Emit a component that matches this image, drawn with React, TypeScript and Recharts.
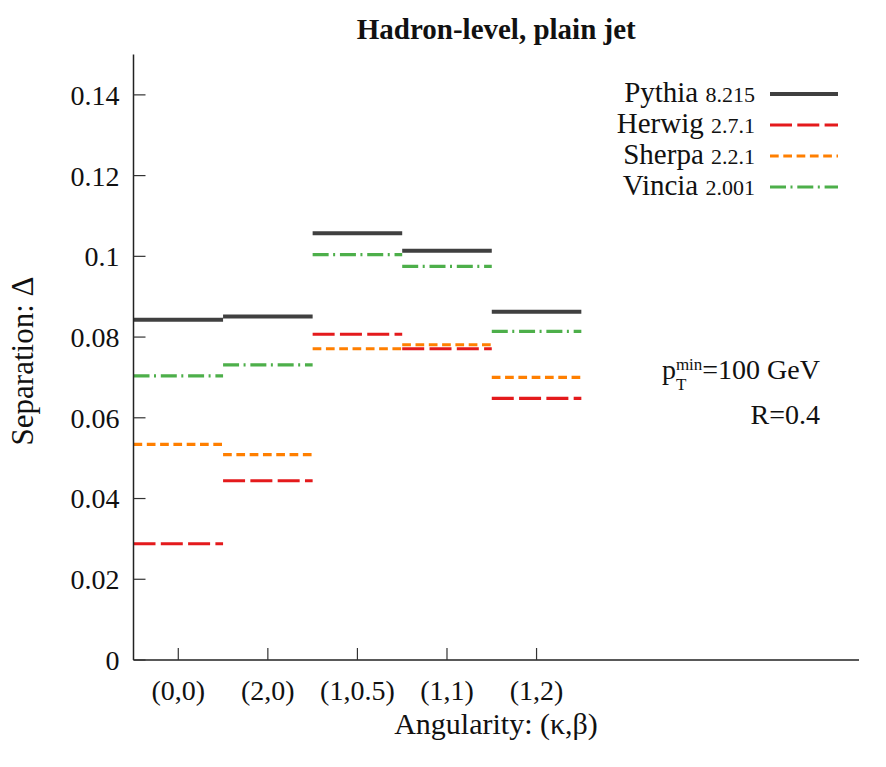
import React from 'react';
import { ComposedChart, Line, XAxis, YAxis } from 'recharts';

const categories = ['(0,0)', '(2,0)', '(1,0.5)', '(1,1)', '(1,2)'];
const pythia = [0.0843, 0.0851, 0.1057, 0.1014, 0.0863];
const herwig = [0.0288, 0.0444, 0.0807, 0.0771, 0.0648];
const sherpa = [0.0534, 0.0509, 0.0771, 0.0781, 0.07];
const vincia = [0.0704, 0.0731, 0.1004, 0.0975, 0.0814];
const yTicks = [0, 0.02, 0.04, 0.06, 0.08, 0.1, 0.12, 0.14];
const xTicks = [1, 2, 3, 4, 5];

const FONT = "'Liberation Serif', 'DejaVu Serif', serif";

// each value becomes a flat step across its bin, with a gap before the next bin
const toSteps = (values: number[]) =>
  values.flatMap((v, i) => [
    { x: i + 0.5, y: v },
    { x: i + 1.5, y: v },
    { x: i + 1.5, y: null },
  ]);

const series = [
  { name: 'Pythia', version: '8.215', values: pythia, color: '#404040', width: 4, dash: undefined },
  { name: 'Herwig', version: '2.7.1', values: herwig, color: '#e41a1c', width: 3.2, dash: '22 5.3' },
  { name: 'Sherpa', version: '2.2.1', values: sherpa, color: '#ff7f00', width: 3.2, dash: '8.7 4.6' },
  { name: 'Vincia', version: '2.001', values: vincia, color: '#4daf4a', width: 3.2, dash: '16 4.5 2 4.8' },
];

// drawing order: orange under red where they overlap
const drawOrder = ['Pythia', 'Sherpa', 'Herwig', 'Vincia'];

const LegendBox = () => (
  <div style={{ position: 'absolute', left: 545, top: 78, fontFamily: FONT, color: '#111' }}>
    {series.map((s) => (
      <div key={s.name} style={{ display: 'flex', alignItems: 'center', height: 31 }}>
        <div style={{ width: 210, textAlign: 'right', fontSize: 29, lineHeight: '31px', whiteSpace: 'nowrap' }}>
          {s.name} <span style={{ fontSize: 22 }}>{s.version}</span>
        </div>
        <svg width={70} height={10} style={{ marginLeft: 15 }}>
          <line x1={0} x2={68} y1={5} y2={5} stroke={s.color} strokeWidth={s.width} strokeDasharray={s.dash} />
        </svg>
      </div>
    ))}
  </div>
);

export default function App() {
  return (
    <div style={{ position: 'absolute', left: 0, top: 0, width: 886, height: 767, background: '#fff' }}>
      <div
        style={{
          position: 'absolute',
          top: 13,
          left: 133.5,
          width: 725.5,
          textAlign: 'center',
          fontFamily: FONT,
          fontWeight: 'bold',
          fontSize: 29,
          color: '#111',
        }}
      >
        Hadron-level, plain jet
      </div>
      <ComposedChart
        width={886}
        height={767}
        margin={{ top: 54.5, right: 27, bottom: 67, left: 73.5 }}
      >
        <XAxis
          xAxisId="bottom"
          type="number"
          dataKey="x"
          domain={[0.5, 8.6]}
          ticks={xTicks}
          allowDataOverflow
          height={40}
          tickSize={-12}
          tickMargin={32}
          tickFormatter={(v: number) => categories[v - 1] ?? ''}
          tick={{ fill: '#111', fontSize: 28, fontFamily: FONT }}
          axisLine={{ stroke: '#222', strokeWidth: 1.5 }}
          tickLine={{ stroke: '#333', strokeWidth: 1.2 }}
          label={{
            content: () => (
              <text x={496} y={734} textAnchor="middle" fontSize={30} fontFamily={FONT} fill="#111">
                Angularity: (κ,β)
              </text>
            ),
          }}
        />
        <XAxis
          xAxisId="top"
          orientation="top"
          type="number"
          dataKey="x"
          domain={[0.5, 8.6]}
          ticks={xTicks}
          allowDataOverflow
          height={0}
          tickSize={-12}
          tick={false}
          axisLine={{ stroke: '#222', strokeWidth: 1.5 }}
          tickLine={{ stroke: '#333', strokeWidth: 1.2 }}
        />
        <YAxis
          yAxisId="left"
          type="number"
          domain={[0, 0.15]}
          ticks={yTicks}
          width={60}
          tickSize={-12}
          tickMargin={26}
          tickFormatter={(v: number) => String(v)}
          tick={{ fill: '#111', fontSize: 28, fontFamily: FONT }}
          axisLine={{ stroke: '#222', strokeWidth: 1.5 }}
          tickLine={{ stroke: '#333', strokeWidth: 1.2 }}
          label={{
            content: () => (
              <text
                x={33}
                y={361}
                textAnchor="middle"
                fontSize={31}
                fontFamily={FONT}
                fill="#111"
                transform="rotate(-90 33 361)"
              >
                Separation: Δ
              </text>
            ),
          }}
        />
        <YAxis
          yAxisId="right"
          orientation="right"
          type="number"
          domain={[0, 0.15]}
          ticks={yTicks}
          width={0}
          tickSize={-12}
          tick={false}
          axisLine={{ stroke: '#222', strokeWidth: 1.5 }}
          tickLine={{ stroke: '#333', strokeWidth: 1.2 }}
        />
        {drawOrder.map((name) => {
          const s = series.find((d) => d.name === name)!;
          return (
            <Line
              key={s.name}
              xAxisId="bottom"
              yAxisId="left"
              data={toSteps(s.values)}
              dataKey="y"
              type="linear"
              stroke={s.color}
              strokeWidth={s.width}
              strokeDasharray={s.dash}
              strokeLinecap="butt"
              dot={false}
              activeDot={false}
              connectNulls={false}
              isAnimationActive={false}
            />
          );
        })}
      </ComposedChart>
      <LegendBox />
      <div
        style={{
          position: 'absolute',
          right: 66,
          top: 350,
          textAlign: 'right',
          fontFamily: FONT,
          fontSize: 28,
          color: '#111',
          lineHeight: '40px',
          whiteSpace: 'nowrap',
        }}
      >
        <div>
          p
          <span
            style={{
              display: 'inline-flex',
              flexDirection: 'column',
              fontSize: 17,
              lineHeight: '20px',
              verticalAlign: '9px',
              textAlign: 'left',
            }}
          >
            <span>min</span>
            <span>T</span>
          </span>
          =100 GeV
        </div>
        <div>R=0.4</div>
      </div>
    </div>
  );
}
